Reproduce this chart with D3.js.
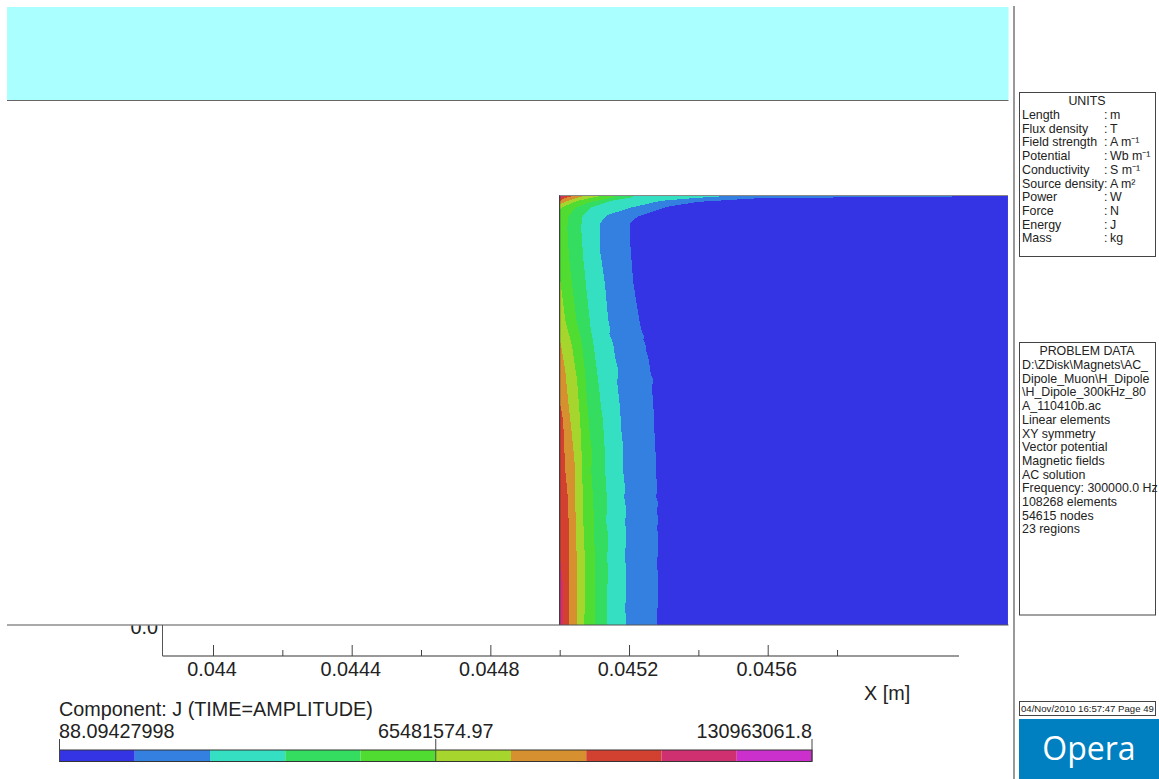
<!DOCTYPE html>
<html><head><meta charset="utf-8">
<script src="https://cdnjs.cloudflare.com/ajax/libs/d3/7.8.5/d3.min.js"></script>
<style>html,body{margin:0;padding:0;background:#fff}svg{display:block}text{font-family:"Liberation Sans",Arial,sans-serif;fill:#222}</style>
</head><body>
<script>
// Value ticks and labels
const xMajor = [44000, 44400, 44800, 45200, 45600];       // micrometres
const xMinor = [44200, 44600, 45000, 45400, 45800];
const xLabels = ["0.044", "0.0444", "0.0448", "0.0452", "0.0456"];
const legendTicks = [88.09427998, 65481574.97, 130963061.8];
const legendLabels = ["88.09427998", "65481574.97", "130963061.8"];
const bandColors = ["#3434e4", "#3480e0", "#34dfc2", "#34dd60", "#50dc30", "#a6d62e", "#d69030", "#d24030", "#cf3070", "#cb30cc"];
const unitNames = ["Length", "Flux density", "Field strength", "Potential", "Conductivity", "Source density", "Power", "Force", "Energy", "Mass"];
const unitValues = ["m", "T", "A m\u207B\u00B9", "Wb m\u207B\u00B9", "S m\u207B\u00B9", "A m\u00B2", "W", "N", "J", "kg"];
const problemLines = ["D:\\ZDisk\\Magnets\\AC_", "Dipole_Muon\\H_Dipole", "\\H_Dipole_300kHz_80", "A_110410b.ac", "Linear elements", "XY symmetry", "Vector potential", "Magnetic fields", "AC solution", "Frequency: 300000.0 Hz", "108268 elements", "54615 nodes", "23 regions"];

// Region extent, micrometres
const regionX = [45000, 46293];
const regionY = [0, 1240];

// Contour boundaries [x, y] in micrometres, top edge to bottom edge
const c1 = [[46293,1237],[45578,1231],[45397,1220],[45310,1206],[45224,1177],[45203,1159],[45203,1105],[45206,1070],[45212,989],[45232,865],[45238,845],[45244,830],[45241,822],[45247,813],[45250,790],[45258,760],[45261,735],[45264,720],[45270,707],[45267,690],[45267,669],[45270,640],[45273,562],[45276,513],[45278,447],[45281,389],[45278,370],[45284,352],[45281,330],[45284,300],[45281,280],[45284,254],[45284,208],[45281,190],[45284,110],[45281,6],[45281,0]];
const c2 = [[45483,1237],[45385,1231],[45290,1223],[45203,1203],[45137,1182],[45117,1159],[45117,1076],[45131,981],[45140,880],[45146,850],[45143,840],[45154,813],[45160,770],[45169,735],[45166,700],[45174,629],[45178,560],[45183,513],[45183,447],[45189,389],[45186,370],[45192,332],[45189,300],[45192,254],[45189,210],[45192,100],[45189,50],[45192,0]];
const c3 = [[45212,1234],[45146,1223],[45088,1203],[45065,1177],[45062,1145],[45068,1058],[45088,865],[45097,813],[45111,707],[45114,680],[45118,640],[45125,591],[45128,530],[45131,496],[45131,447],[45137,352],[45134,300],[45140,254],[45137,190],[45140,159],[45137,100],[45137,0]];
const c4 = [[45160,1234],[45088,1220],[45045,1203],[45025,1177],[45022,1145],[45027,1058],[45048,880],[45060,830],[45065,802],[45071,750],[45074,715],[45078,660],[45082,611],[45088,540],[45094,496],[45091,447],[45097,352],[45100,254],[45102,159],[45102,0]];
const c5 = [[45117,1237],[45050,1223],[45010,1206],[45001,1197],[45001,1001],[45016,880],[45036,802],[45050,707],[45059,591],[45062,530],[45065,447],[45068,303],[45074,159],[45071,0]];
const c6 = [[45068,1237],[45022,1223],[45001,1214],[45001,822],[45016,735],[45025,640],[45036,542],[45045,447],[45045,352],[45050,159],[45050,0]];
const c7 = [[45036,1237],[45010,1229],[45001,1223],[45001,640],[45010,591],[45016,447],[45025,352],[45027,159],[45027,0]];
const c8 = [[45020,1239],[45008,1234],[45001,1231],[45001,196],[45010,110],[45010,0]];
const c9 = [[45010,1240],[45001,1236]];
const contours = [c1, c2, c3, c4, c5, c6, c7, c8, c9];

const W = 1159, H = 779;
const svg = d3.select("body").append("svg").attr("width", W).attr("height", H);

const x = d3.scaleLinear().domain([44000, 45600]).range([213, 767.7]);
const y = d3.scaleLinear().domain([0, 1240]).range([625, 195]);

// Top band
svg.append("rect").attr("x", 7).attr("y", 7).attr("width", 1001.5).attr("height", 93).attr("fill", "#aaffff");
svg.append("line").attr("x1", 7).attr("x2", 1008.5).attr("y1", 100.5).attr("y2", 100.5).attr("stroke", "#666");

// Contour fill
svg.append("rect").attr("x", x(regionX[0])).attr("y", y(regionY[1]))
  .attr("width", x(regionX[1]) - x(regionX[0])).attr("height", y(regionY[0]) - y(regionY[1]))
  .attr("fill", bandColors[0]);
const line = d3.line().x(d => x(d[0])).y(d => y(d[1]));
const bands = svg.append("g").attr("shape-rendering", "crispEdges");
contours.forEach((c, i) => {
  const closed = [[regionX[0], regionY[0]], [regionX[0], regionY[1]], ...(i === 0 ? [[regionX[1], regionY[1]]] : [[c[0][0], regionY[1]]]), ...c];
  if (c[c.length - 1][1] > 0) closed.splice(0, 1);
  bands.append("path").attr("d", line(closed) + "Z").attr("fill", bandColors[i + 1]);
});
svg.append("line").attr("x1", x(regionX[0])).attr("x2", x(regionX[0])).attr("y1", y(regionY[1])).attr("y2", y(0)).attr("stroke", "#222");
svg.append("line").attr("x1", x(regionX[0])).attr("x2", x(regionX[1])).attr("y1", y(regionY[1]) + .5).attr("y2", y(regionY[1]) + .5).attr("stroke", "#888");
svg.append("line").attr("x1", 7).attr("x2", 1008.5).attr("y1", 625).attr("y2", 625).attr("stroke", "#555").attr("stroke-width", 1.2);

// Axes
const axisY = 656;
const axisRange = [162.5, 959];
svg.append("line").attr("x1", axisRange[0]).attr("x2", axisRange[1]).attr("y1", axisY).attr("y2", axisY).attr("stroke", "#777").attr("stroke-width", 1.4);
svg.append("line").attr("x1", 162.5).attr("x2", 162.5).attr("y1", 625).attr("y2", axisY).attr("stroke", "#555");
const majG = svg.append("g").attr("transform", `translate(0,${axisY})`).call(d3.axisTop(x).tickValues(xMajor).tickSize(11).tickFormat(""));
const minG = svg.append("g").attr("transform", `translate(0,${axisY})`).call(d3.axisTop(x).tickValues(xMinor).tickSize(6).tickFormat(""));
[majG, minG].forEach(g => { g.select(".domain").remove(); g.selectAll("line").attr("stroke", "#444"); });
const lab = svg.append("g").attr("transform", `translate(-1.5,${axisY})`).call(d3.axisBottom(x).tickValues(xMajor).tickSize(0).tickPadding(6).tickFormat((d, i) => xLabels[i]));
lab.select(".domain").remove();
lab.selectAll("text").style("font-size", "19.8px").style("font-family", '"Liberation Sans"').style("fill", "#222");
svg.append("text").attr("x", 864).attr("y", 700).attr("font-size", 19.8).text("X [m]");
svg.append("clipPath").attr("id", "yc").append("rect").attr("x", 100).attr("y", 625.5).attr("width", 62).attr("height", 20);
svg.append("text").attr("x", 158).attr("y", 634).attr("text-anchor", "end").attr("font-size", 19.8).attr("clip-path", "url(#yc)").text("0.0");

// Colour legend
const lx = d3.scaleLinear().domain([legendTicks[0], legendTicks[2]]).range([59.5, 812]);
const step = (legendTicks[2] - legendTicks[0]) / bandColors.length;
svg.append("text").attr("x", 59).attr("y", 716).attr("font-size", 19.8).text("Component: J (TIME=AMPLITUDE)");
bandColors.forEach((c, i) => {
  const a = lx(legendTicks[0] + step * i), b = lx(legendTicks[0] + step * (i + 1));
  svg.append("rect").attr("x", a).attr("y", 750).attr("width", b - a).attr("height", 11.5).attr("fill", c);
});
svg.append("rect").attr("x", 59.5).attr("y", 750).attr("width", 752.5).attr("height", 11.5).attr("fill", "none").attr("stroke", "#333").attr("stroke-width", 1);
legendTicks.forEach((t, i) => {
  svg.append("line").attr("x1", lx(t)).attr("x2", lx(t)).attr("y1", 739).attr("y2", 761.5).attr("stroke", "#444");
  svg.append("text").attr("x", lx(t) + (i === 0 ? -0.5 : 0)).attr("y", 738).attr("font-size", 19.8)
    .attr("text-anchor", ["start", "middle", "end"][i]).text(legendLabels[i]);
});

// Side column
svg.append("rect").attr("x", 1013).attr("y", 6).attr("width", 2).attr("height", 773).attr("fill", "#999");
function box(yy, h) {
  svg.append("rect").attr("x", 1019.5).attr("y", yy).attr("width", 136).attr("height", h).attr("fill", "#fff").attr("stroke", "#444");
}
const sideSize = 12.4;
box(92.5, 164);
svg.append("text").attr("x", 1087).attr("y", 105).attr("text-anchor", "middle").attr("font-size", sideSize).text("UNITS");
unitNames.forEach((n, i) => {
  const yy = 119 + i * 13.7;
  svg.append("text").attr("x", 1022).attr("y", yy).attr("font-size", sideSize).text(n);
  svg.append("text").attr("x", 1104).attr("y", yy).attr("font-size", sideSize).text(":");
  svg.append("text").attr("x", 1110).attr("y", yy).attr("font-size", sideSize).text(unitValues[i]);
});
box(342.5, 272.5);
svg.append("text").attr("x", 1087).attr("y", 355).attr("text-anchor", "middle").attr("font-size", sideSize).text("PROBLEM DATA");
problemLines.forEach((t, i) => {
  svg.append("text").attr("x", 1022).attr("y", 369 + i * 13.7).attr("font-size", sideSize).text(t);
});
box(701.5, 14);
svg.append("text").attr("x", 1021).attr("y", 712).attr("font-size", 9.6).text("04/Nov/2010 16:57:47 Page 49");
svg.append("rect").attr("x", 1019).attr("y", 719).attr("width", 140).attr("height", 60).attr("fill", "#0080c0");
svg.append("text").attr("x", 1089).attr("y", 760).attr("text-anchor", "middle").attr("font-size", 32).style("font-family", '"Open Sans"').style("fill", "#fff").text("Opera");
</script>
</body></html>
